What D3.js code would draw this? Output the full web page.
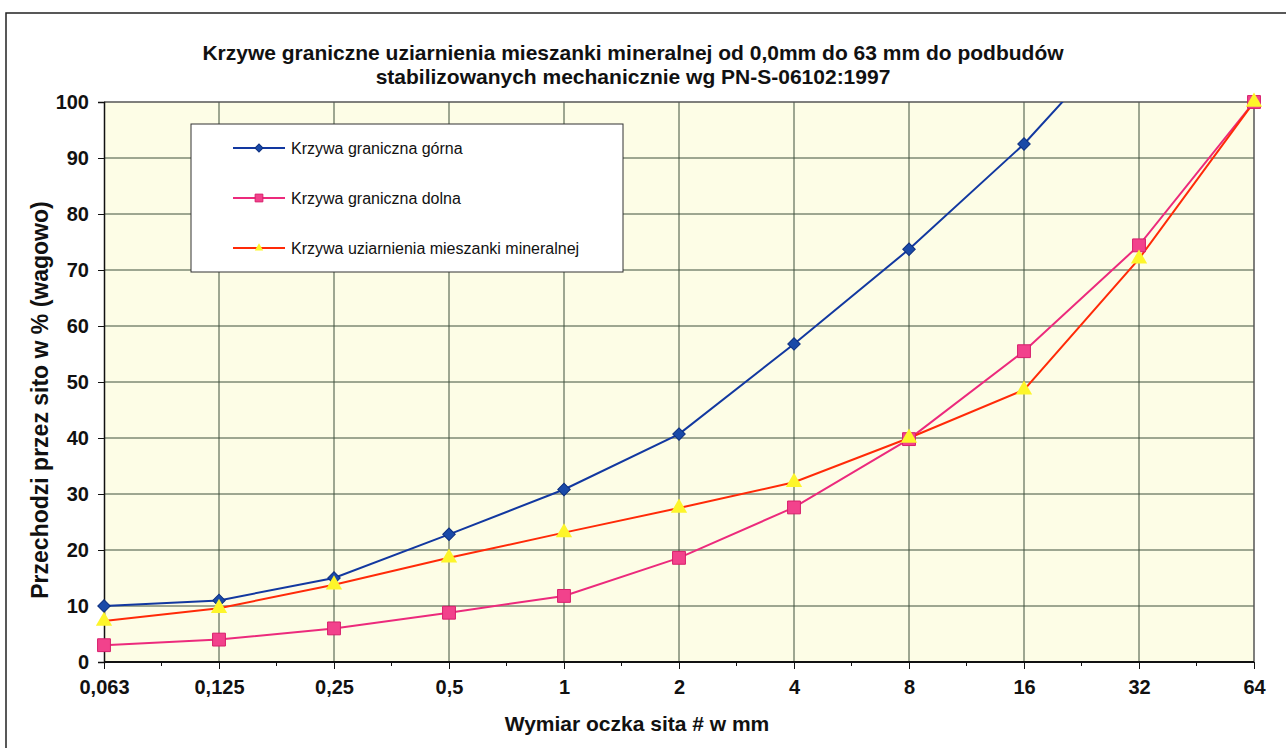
<!DOCTYPE html>
<html>
<head>
<meta charset="utf-8">
<script src="https://cdn.jsdelivr.net/npm/d3@7/dist/d3.min.js"></script>
<style>
  html, body { margin: 0; padding: 0; background: #ffffff; }
  svg { display: block; }
  text { font-family: "Liberation Sans", Arial, Helvetica, sans-serif; fill: #111; }
</style>
</head>
<body>
<svg id="chart" width="1286" height="748"></svg>
<script>
// ---- data ----
const sieves = ["0,063", "0,125", "0,25", "0,5", "1", "2", "4", "8", "16", "32", "64"];
const upperCurve = [10, 11, 15, 22.8, 30.8, 40.7, 56.8, 73.7, 92.5, 115, null];
const lowerCurve = [3, 4, 6, 8.8, 11.8, 18.6, 27.6, 39.8, 55.5, 74.4, 100];
const mixCurve = [7.3, 9.6, 13.8, 18.6, 23.1, 27.5, 32.1, 40, 48.6, 72, 100];
const yTicks = [0, 10, 20, 30, 40, 50, 60, 70, 80, 90, 100];
const seriesNames = ["Krzywa graniczna górna", "Krzywa graniczna dolna", "Krzywa uziarnienia mieszanki mineralnej"];
const titleLines = ["Krzywe graniczne uziarnienia mieszanki mineralnej od 0,0mm do 63 mm do podbudów",
                    "stabilizowanych mechanicznie wg PN-S-06102:1997"];
const xTitle = "Wymiar oczka sita # w mm";
const yTitle = "Przechodzi przez sito w % (wagowo)";

// ---- layout ----
const svg = d3.select("#chart");
const plot = { left: 104, right: 1254, top: 102, bottom: 662 };

const x = d3.scalePoint().domain(sieves).range([plot.left, plot.right]);
const y = d3.scaleLinear().domain([0, 100]).range([plot.bottom, plot.top]);

// outer border (extends past right and bottom edges)
svg.append("path")
  .attr("d", `M1290,13 L6,13 L6,752`)
  .attr("fill", "none").attr("stroke", "#222").attr("stroke-width", 1.5);

// plot background
svg.append("rect")
  .attr("x", plot.left).attr("y", plot.top)
  .attr("width", plot.right - plot.left).attr("height", plot.bottom - plot.top)
  .attr("fill", "#fdfde6");

// grid
const gridColor = "#3f503c";
svg.append("g").selectAll("line").data(yTicks.filter(d => d > 0 && d < 100)).join("line")
  .attr("x1", plot.left).attr("x2", plot.right)
  .attr("y1", d => y(d)).attr("y2", d => y(d))
  .attr("stroke", gridColor).attr("stroke-width", 1);
svg.append("g").selectAll("line").data(sieves.slice(1, -1)).join("line")
  .attr("x1", d => x(d)).attr("x2", d => x(d))
  .attr("y1", plot.top).attr("y2", plot.bottom)
  .attr("stroke", gridColor).attr("stroke-width", 1);

// plot border top/right
svg.append("path")
  .attr("d", `M${plot.left},${plot.top} L${plot.right},${plot.top} L${plot.right},${plot.bottom}`)
  .attr("fill", "none").attr("stroke", "#555").attr("stroke-width", 1.5);

// y axis
const yAxis = d3.axisLeft(y).tickValues(yTicks).tickSize(6).tickPadding(9).tickFormat(d3.format("d"));
const gy = svg.append("g").attr("transform", `translate(${plot.left},0)`).call(yAxis);
gy.select(".domain").attr("stroke", "#111").attr("stroke-width", 1.5);
gy.selectAll(".tick line").attr("stroke", "#111");
gy.selectAll(".tick text").style("font-size", "20px").style("font-weight", "bold")
  .style("font-family", '"Liberation Sans", Arial, sans-serif').attr("fill", "#111");

// x axis
const xAxis = d3.axisBottom(x).tickSize(7).tickPadding(11);
const gx = svg.append("g").attr("transform", `translate(0,${plot.bottom})`).call(xAxis);
gx.select(".domain").attr("stroke", "#111").attr("stroke-width", 2).attr("d", `M${plot.left},0H${plot.right}`);
gx.selectAll(".tick line").attr("stroke", "#111");
gx.selectAll(".tick text").style("font-size", "20px").style("font-weight", "bold")
  .style("font-family", '"Liberation Sans", Arial, sans-serif').attr("fill", "#111");
// minor ticks between categories
const mids = d3.pairs(sieves).map(([a, b]) => (x(a) + x(b)) / 2);
gx.append("g").selectAll("line").data(mids).join("line")
  .attr("x1", d => d).attr("x2", d => d).attr("y1", 0).attr("y2", 4)
  .attr("stroke", "#111");

// clip for lines
svg.append("clipPath").attr("id", "plotclip").append("rect")
  .attr("x", plot.left).attr("y", plot.top)
  .attr("width", plot.right - plot.left).attr("height", plot.bottom - plot.top);

const line = d3.line().defined(d => d.v != null).x(d => x(d.k)).y(d => y(d.v));
const toPts = arr => sieves.map((k, i) => ({ k, v: arr[i] }));

const series = [
  { name: seriesNames[0], data: upperCurve, stroke: "#1238a0", marker: "diamond", fill: "#1a4aa8", mstroke: "#0d2f80", size: 78 },
  { name: seriesNames[1], data: lowerCurve, stroke: "#ec2a7c", marker: "square", fill: "#f2428c", mstroke: "#d81f6c", size: 165 },
  { name: seriesNames[2], data: mixCurve, stroke: "#ff2a08", marker: "triangle", fill: "#fdf52a", mstroke: "none", size: 115 }
];
const symbolType = { diamond: d3.symbolSquare, square: d3.symbolSquare, triangle: d3.symbolTriangle };
const symbolRot = { diamond: 45, square: 0, triangle: 0 };

// draw lines first then markers
series.forEach(s => {
  svg.append("path")
    .datum(toPts(s.data))
    .attr("clip-path", "url(#plotclip)")
    .attr("fill", "none").attr("stroke", s.stroke).attr("stroke-width", 2)
    .attr("d", line);
});
series.forEach(s => {
  const pts = toPts(s.data).filter(d => d.v != null && d.v <= 100);
  svg.append("g").selectAll("path").data(pts).join("path")
    .attr("transform", d => `translate(${x(d.k)},${y(d.v)}) rotate(${symbolRot[s.marker]})`)
    .attr("d", d3.symbol().type(symbolType[s.marker]).size(s.size))
    .attr("fill", s.fill).attr("stroke", s.mstroke).attr("stroke-width", 1);
});

// legend
const lg = svg.append("g");
lg.append("rect").attr("x", 191).attr("y", 124).attr("width", 432).attr("height", 148)
  .attr("fill", "#ffffff").attr("stroke", "#333").attr("stroke-width", 1);
const legendYs = [148, 198, 248];
const legendSizes = [32, 60, 30];
series.forEach((s, i) => {
  const ly = legendYs[i];
  lg.append("line").attr("x1", 233).attr("x2", 285).attr("y1", ly).attr("y2", ly)
    .attr("stroke", s.stroke).attr("stroke-width", 2);
  lg.append("path").attr("transform", `translate(259,${ly}) rotate(${symbolRot[s.marker]})`)
    .attr("d", d3.symbol().type(symbolType[s.marker]).size(legendSizes[i]))
    .attr("fill", s.fill).attr("stroke", s.mstroke).attr("stroke-width", 1);
  lg.append("text").attr("x", 291).attr("y", ly + 5.5)
    .style("font-size", "16px").text(s.name);
});

// titles
const tt = svg.append("text").attr("text-anchor", "middle")
  .style("font-size", "21px").style("font-weight", "bold");
tt.append("tspan").attr("x", 633).attr("y", 60).text(titleLines[0]);
tt.append("tspan").attr("x", 633).attr("y", 84).text(titleLines[1]);

svg.append("text").attr("x", 637).attr("y", 731).attr("text-anchor", "middle")
  .style("font-size", "21px").style("font-weight", "bold").text(xTitle);

svg.append("text").attr("transform", "translate(48,400) rotate(-90)").attr("text-anchor", "middle")
  .style("font-size", "23px").style("font-weight", "bold").text(yTitle);
</script>
</body>
</html>
